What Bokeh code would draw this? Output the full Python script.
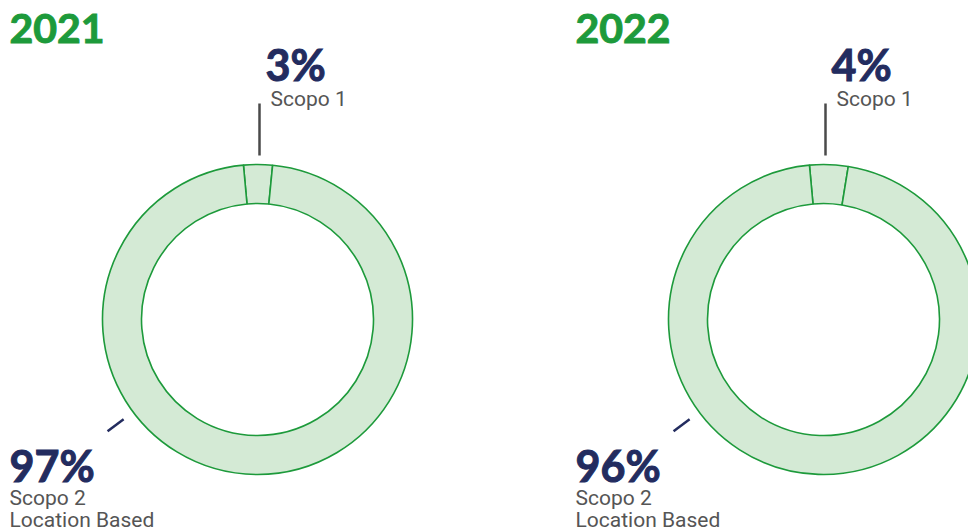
import math
from bokeh.plotting import figure
from bokeh.models import Range1d, ColumnDataSource
from bokeh.core.properties import value
from bokeh.embed import file_html
from bokeh.resources import INLINE

# ---- data ----
years = ["2021", "2022"]
categories = ["Scopo 1", "Scopo 2"]
scope1 = [3, 4]
scope2 = [97, 96]
scope2_sub = "Location Based"

# ---- layout / style ----
W, H = 968, 530
def Y(s):  # reference pixel y -> data y
    return H - s

centers_x = [257, 823]
cy = Y(319)
R_OUT, R_IN = 155, 116
START_OFFSET = 5.2  # degrees left of top where first slice starts

GREEN = "#1d9a3b"
FILL = "#d4ead5"
NAVY = "#232c5f"
GRAY = "#555555"
LEAD = "#4a4a4a"

BIG_SHIFT = 15.5   # baseline compensation for large labels
SMALL_SHIFT = 7.5  # baseline compensation for small labels

p = figure(width=W, height=H, output_backend="svg", toolbar_location=None,
           x_range=Range1d(0, W), y_range=Range1d(0, H), min_border=0)
p.axis.visible = False
p.grid.visible = False
p.outline_line_color = None
p.background_fill_color = "white"
p.border_fill_color = "white"

wx, wy, ws, we = [], [], [], []
for i, yr in enumerate(years):
    vals = [scope1[i], scope2[i]]
    total = sum(vals)
    a0 = 90 + START_OFFSET
    for v in vals:
        a1 = a0 - 360.0 * v / total
        wx.append(centers_x[i]); wy.append(cy)
        ws.append(math.radians(a1)); we.append(math.radians(a0))
        a0 = a1

src = ColumnDataSource(dict(x=wx, y=wy, s=ws, e=we))
p.annular_wedge(x="x", y="y", inner_radius=R_IN, outer_radius=R_OUT,
                start_angle="s", end_angle="e", source=src,
                fill_color=FILL, line_color=GREEN, line_width=1.6)

# leader lines
for i, yr in enumerate(years):
    cx = centers_x[i]
    p.segment(x0=[cx + 2], y0=[Y(103)], x1=[cx + 2], y1=[Y(155)],
              line_color=LEAD, line_width=2.5)
    ang = math.radians(216.7)
    p.segment(x0=[cx + 167 * math.cos(ang)], y0=[cy + 167 * math.sin(ang)],
              x1=[cx + 187 * math.cos(ang)], y1=[cy + 187 * math.sin(ang)],
              line_color=NAVY, line_width=2.5)

bold = dict(text_font=value("Lato"), text_font_style="bold",
            text_baseline="alphabetic", text_align="left")
reg = dict(text_font=value("Roboto"), text_font_size="21px", text_color=GRAY,
           text_baseline="alphabetic", text_align="left")

# titles
p.text(x=[cx - 248 for cx in centers_x], y=[Y(43 - 15)] * 2, text=years,
       text_font_size="41px", text_color=GREEN,
       text_outline_color=GREEN, **bold)

# percent labels
p.text(x=[cx + 8 for cx in centers_x], y=[Y(79 - BIG_SHIFT)] * 2,
       text=[f"{v}%" for v in scope1], text_font_size="43px",
       text_color=NAVY, text_outline_color=NAVY, **bold)
p.text(x=[cx + 13 for cx in centers_x], y=[Y(106 - SMALL_SHIFT)] * 2,
       text=[categories[0]] * 2, **reg)

p.text(x=[cx - 248 for cx in centers_x], y=[Y(480 - BIG_SHIFT)] * 2,
       text=[f"{v}%" for v in scope2], text_font_size="43px",
       text_color=NAVY, text_outline_color=NAVY, **bold)
p.text(x=[cx - 248 for cx in centers_x], y=[Y(505 - SMALL_SHIFT)] * 2,
       text=[categories[1]] * 2, **reg)
p.text(x=[cx - 248 for cx in centers_x], y=[Y(527 - SMALL_SHIFT)] * 2,
       text=[scope2_sub] * 2, **reg)

open("out.html", "w").write(file_html(p, INLINE))
